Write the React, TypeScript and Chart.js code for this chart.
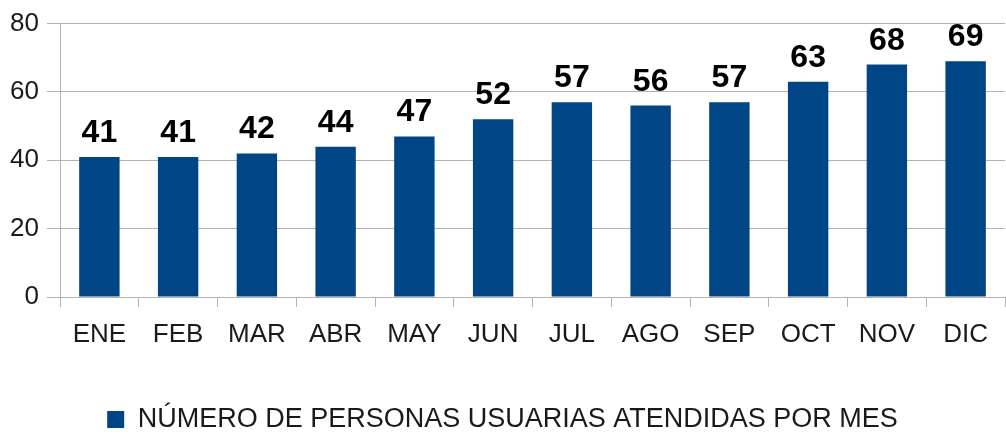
import React, { useEffect, useRef } from "react";
import { Chart, registerables } from "chart.js";

Chart.register(...registerables);

const categories = ["ENE", "FEB", "MAR", "ABR", "MAY", "JUN", "JUL", "AGO", "SEP", "OCT", "NOV", "DIC"];
const values = [41, 41, 42, 44, 47, 52, 57, 56, 57, 63, 68, 69];
const seriesLabel = "NÚMERO DE PERSONAS USUARIAS ATENDIDAS POR MES";
const yTicks = [0, 20, 40, 60, 80];

const FONT = "'Liberation Sans', Arial, sans-serif";
const BAR = "#004586";
const GRID = "#b3b3b3";

const valueLabels = {
  id: "valueLabels",
  afterDatasetsDraw(chart: any) {
    const { ctx } = chart;
    const meta = chart.getDatasetMeta(0);
    ctx.save();
    ctx.font = `bold 32px ${FONT}`;
    ctx.fillStyle = "#000";
    ctx.textAlign = "center";
    ctx.textBaseline = "alphabetic";
    meta.data.forEach((el: any, i: number) => {
      ctx.fillText(String(chart.data.datasets[0].data[i]), el.x, el.y - 15);
    });
    ctx.restore();
  },
};

export default function App() {
  const ref = useRef<HTMLCanvasElement>(null);
  useEffect(() => {
    document.body.style.margin = "0";
    const chart = new Chart(ref.current!, {
      type: "bar",
      data: {
        labels: categories,
        datasets: [
          {
            label: seriesLabel,
            data: values,
            backgroundColor: BAR,
            borderWidth: 0,
            barPercentage: 0.9,
            categoryPercentage: 0.57,
          },
        ],
      },
      options: {
        animation: false,
        responsive: false,
        maintainAspectRatio: false,
        layout: { padding: { top: 20, right: 1, left: 0, bottom: -6 } },
        plugins: {
          tooltip: { enabled: false },
          legend: {
            position: "bottom",
            labels: {
              boxWidth: 17,
              boxHeight: 17,
              padding: 4,
              color: "#1a1a1a",
              font: { family: FONT, size: 27 },
            },
          },
        },
        scales: {
          x: {
            afterFit(scale: any) {
              scale.height = 105;
            },
            grid: {
              display: true,
              drawOnChartArea: false,
              drawTicks: true,
              tickLength: 10,
              offset: true,
              color: GRID,
              lineWidth: 1,
            },
            border: { display: true, color: GRID, width: 1 },
            ticks: {
              padding: 12,
              color: "#1a1a1a",
              font: { family: FONT, size: 26 },
            },
          },
          y: {
            min: 0,
            max: 80,
            afterFit(scale: any) {
              scale.width = 60;
            },
            afterBuildTicks(scale: any) {
              scale.ticks = yTicks.map((v) => ({ value: v }));
            },
            grid: {
              color: GRID,
              lineWidth: 1,
              tickLength: 13,
            },
            border: { display: true, color: GRID, width: 1 },
            ticks: {
              padding: 8,
              color: "#1a1a1a",
              font: { family: FONT, size: 26 },
            },
          },
        },
      },
      plugins: [valueLabels],
    });
    return () => chart.destroy();
  }, []);
  return (
    <div style={{ width: 1006, height: 437 }}>
      <canvas ref={ref} width={1006} height={437} style={{ display: "block" }} />
    </div>
  );
}
